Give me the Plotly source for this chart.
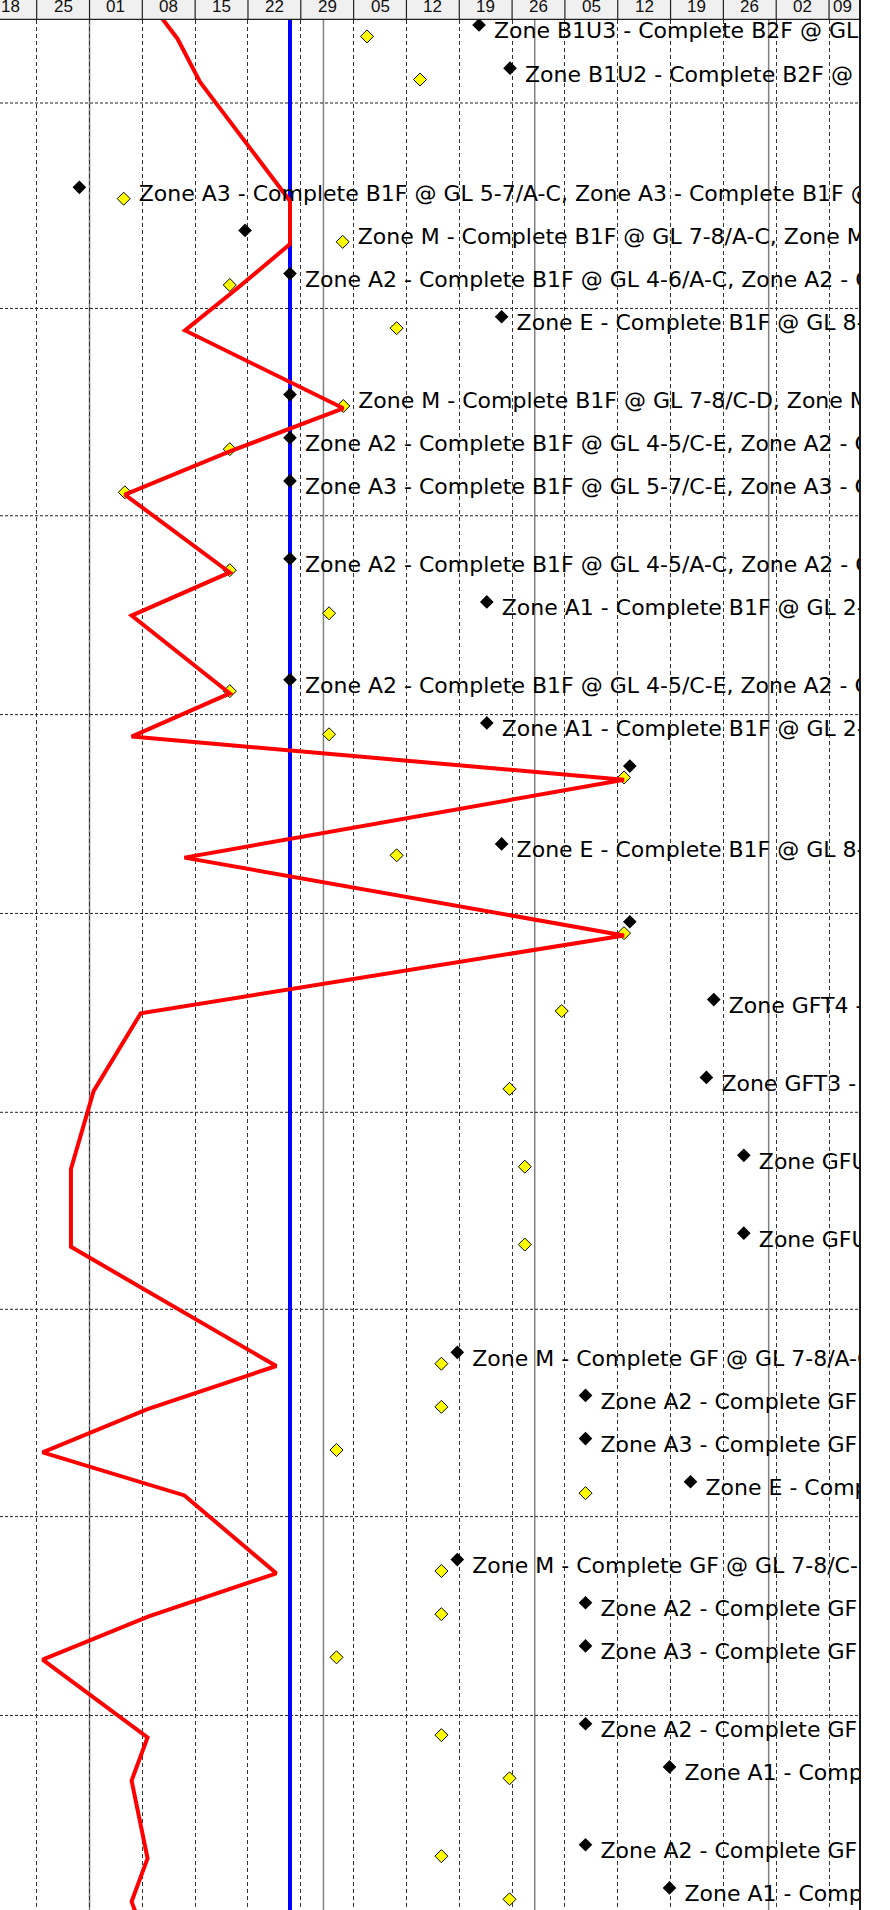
import pandas as pd
import plotly.graph_objects as go

# ---------------- data ----------------
X_START = '2017-12-20 03:20'
X_END = '2018-04-13 02:30'
DATA_DATE = '2018-01-27 13:40'
FIRST_WEEK = '2017-12-18'
MONTH_STARTS = ['2018-01-01', '2018-02-01', '2018-03-01', '2018-04-01']

# Gantt row structure: A = activity row, W1/W2 = WBS band rows (no bars)
ROW_KINDS = ['A', 'A', 'A', 'W1', 'W2', 'A', 'A', 'A', 'A', 'W2', 'A', 'A', 'A', 'W2',
             'A', 'A', 'W2', 'A', 'A', 'A', 'W2', 'A', 'W2', 'A', 'W2', 'A', 'W2', 'A',
             'W2', 'A', 'W2', 'A', 'W1', 'W2', 'A', 'A', 'A', 'A', 'W2', 'A', 'A', 'A',
             'W2', 'A', 'A', 'W2', 'A', 'A', 'A']

LABELS = [
    '',
    'Zone B1U3 - Complete B2F @ GL 1-3/A-E',
    'Zone B1U2 - Complete B2F @ GL 1-3/E-H',
    'Zone A3 - Complete B1F @ GL 5-7/A-C, Zone A3 - Complete B1F @ GL 5-7/A-C',
    'Zone M - Complete B1F @ GL 7-8/A-C, Zone M - Complete B1F @ GL 7-8/A-C',
    'Zone A2 - Complete B1F @ GL 4-6/A-C, Zone A2 - Complete B1F @ GL 4-6/A-C',
    'Zone E - Complete B1F @ GL 8-9/A-E',
    'Zone M - Complete B1F @ GL 7-8/C-D, Zone M - Complete B1F @ GL 7-8/C-D',
    'Zone A2 - Complete B1F @ GL 4-5/C-E, Zone A2 - Complete B1F @ GL 4-5/C-E',
    'Zone A3 - Complete B1F @ GL 5-7/C-E, Zone A3 - Complete B1F @ GL 5-7/C-E',
    'Zone A2 - Complete B1F @ GL 4-5/A-C, Zone A2 - Complete B1F @ GL 4-5/A-C',
    'Zone A1 - Complete B1F @ GL 2-4/A-E',
    'Zone A2 - Complete B1F @ GL 4-5/C-E, Zone A2 - Complete B1F @ GL 4-5/C-E',
    'Zone A1 - Complete B1F @ GL 2-4/A-E',
    '',
    'Zone E - Complete B1F @ GL 8-9/A-E',
    '',
    'Zone GFT4 - Complete GF',
    'Zone GFT3 - Complete GF',
    'Zone GFU1 - Complete GF',
    'Zone GFU2 - Complete GF',
    'Zone M - Complete GF @ GL 7-8/A-C',
    'Zone A2 - Complete GF @ GL 4-6/A-C',
    'Zone A3 - Complete GF @ GL 5-7/A-C',
    'Zone E - Complete GF @ GL 8-9/A-E',
    'Zone M - Complete GF @ GL 7-8/C-D',
    'Zone A2 - Complete GF @ GL 4-5/C-E',
    'Zone A3 - Complete GF @ GL 5-7/C-E',
    'Zone A2 - Complete GF @ GL 4-5/A-C',
    'Zone A1 - Complete GF @ GL 2-4/A-E',
    'Zone A2 - Complete GF @ GL 4-5/C-E',
    'Zone A1 - Complete GF @ GL 2-4/A-E',
    '',
]

# current (forecast) milestone dates - black diamonds
FINISH = [None, '2018-02-21 14:50', '2018-02-25 17:30', '2017-12-30 15:50', '2018-01-21 14:40',
          '2018-01-27 13:40', '2018-02-24 14:40', '2018-01-27 13:40', '2018-01-27 13:40',
          '2018-01-27 13:40', '2018-01-27 13:40', '2018-02-22 15:35', '2018-01-27 13:40',
          '2018-02-22 15:35', '2018-03-13 14:25', '2018-02-24 14:40', '2018-03-13 14:25',
          '2018-03-24 17:30', '2018-03-23 18:00', '2018-03-28 17:00', '2018-03-28 17:00',
          '2018-02-18 17:45', '2018-03-07 17:30', '2018-03-07 17:30', '2018-03-21 15:25',
          '2018-02-18 17:45', '2018-03-07 17:30', '2018-03-07 17:30', '2018-03-07 17:30',
          '2018-03-18 20:40', '2018-03-07 17:30', '2018-03-18 20:40', None]

# baseline milestone dates - yellow diamonds
BASELINE = [None, '2018-02-06 18:30', '2018-02-13 19:10', '2018-01-05 12:45', '2018-02-03 13:15',
            '2018-01-19 14:10', '2018-02-10 16:50', '2018-02-03 15:10', '2018-01-19 14:10',
            '2018-01-05 16:20', '2018-01-19 14:10', '2018-02-01 17:45', '2018-01-19 14:10',
            '2018-02-01 17:45', '2018-03-12 20:00', '2018-02-10 16:50', '2018-03-12 20:00',
            '2018-03-04 13:55', '2018-02-25 15:50', '2018-02-27 16:30', '2018-02-27 16:30',
            '2018-02-16 15:10', '2018-02-16 15:10', '2018-02-02 17:35', '2018-03-07 17:30',
            '2018-02-16 15:10', '2018-02-16 15:10', '2018-02-02 17:35', '2018-02-16 15:10',
            '2018-02-25 15:50', '2018-02-16 15:10', '2018-02-25 15:50', None]

# progress line points - red line
PROGRESS = ['2018-01-08 07:30', '2018-01-12 15:50', '2018-01-15 15:25', '2018-01-27 13:40',
            '2018-01-27 13:40', '2018-01-20 18:00', '2018-01-13 15:50', '2018-02-03 15:10',
            '2018-01-19 14:10', '2018-01-05 16:20', '2018-01-19 14:10', '2018-01-06 13:55',
            '2018-01-19 14:10', '2018-01-06 13:55', '2018-03-12 20:00', '2018-01-13 13:55',
            '2018-03-12 20:00', '2018-01-07 18:55', '2018-01-01 13:00', '2017-12-29 13:00',
            '2017-12-29 13:00', '2018-01-25 18:00', '2018-01-08 16:35', '2017-12-25 18:45',
            '2018-01-13 13:55', '2018-01-25 18:00', '2018-01-08 20:20', '2017-12-25 18:45',
            '2018-01-08 16:35', '2018-01-06 13:55', '2018-01-08 16:35', '2018-01-06 13:55',
            '2018-01-08 16:35']

# ---------------- layout constants ----------------
FIG_W, FIG_H = 890, 1910
HEADER_H = 20
PLOT_R = 860
ROW_H = {'A': 43.15, 'W1': 41.3, 'W2': 34.7}
FIRST_TOP = -26.45
OFF_FINISH, OFF_BASE, OFF_PROG, OFF_TEXT = 8.3, 19.7, 22.0, 16.2
TEXT_PAD_PX = 15
FONT = 'DejaVu Sans'
HDR_FONT = 'Liberation Sans, Arial, sans-serif'

x0, x1 = pd.Timestamp(X_START), pd.Timestamp(X_END)
px_per_day = PLOT_R / ((x1 - x0) / pd.Timedelta(days=1))
plot_h = FIG_H - HEADER_H
hdr_top = 1 + HEADER_H / plot_h


def py(px_from_top):
    return 1 + (HEADER_H - px_from_top) / plot_h


# row tops (in image-pixel units used by the y axis)
tops, y = [], FIRST_TOP
for k in ROW_KINDS:
    tops.append(y)
    y += ROW_H[k]
act_tops = [t for t, k in zip(tops, ROW_KINDS) if k == 'A']

fig = go.Figure()

# baseline diamonds
bx = [b for b in BASELINE if b]
by = [t + OFF_BASE for t, b in zip(act_tops, BASELINE) if b]
fig.add_trace(go.Scatter(x=bx, y=by, mode='markers',
                         marker=dict(symbol='diamond', size=10, color='#FFFF00',
                                     line=dict(color='#000000', width=1))))
# progress line
fig.add_trace(go.Scatter(x=PROGRESS, y=[t + OFF_PROG for t in act_tops], mode='lines',
                         line=dict(color='#FF0000', width=4)))
# current diamonds
fx = [f for f in FINISH if f]
fy = [t + OFF_FINISH for t, f in zip(act_tops, FINISH) if f]
fig.add_trace(go.Scatter(x=fx, y=fy, mode='markers',
                         marker=dict(symbol='diamond', size=10.5, color='#000000')))
# labels
pad = pd.Timedelta(days=TEXT_PAD_PX / px_per_day)
tx, ty, tt = [], [], []
for t, f, b, lab in zip(act_tops, FINISH, BASELINE, LABELS):
    if lab and f:
        tx.append(max(pd.Timestamp(f), pd.Timestamp(b)) + pad)
        ty.append(t + OFF_TEXT)
        tt.append(lab)
fig.add_trace(go.Scatter(x=tx, y=ty, text=tt, mode='text', textposition='middle right',
                         textfont=dict(family=FONT, size=22, color='#000000')))

shapes = []
# month boundaries (solid)
for m in MONTH_STARTS:
    shapes.append(dict(type='line', xref='x', yref='paper', x0=m, x1=m, y0=0, y1=1,
                       line=dict(color='#808080', width=1.5), layer='between'))
# horizontal grid every 5 rows
for i, (t, k) in enumerate(zip(tops, ROW_KINDS)):
    if i % 5 == 2:
        yb = t + ROW_H[k]
        shapes.append(dict(type='line', xref='paper', yref='y', x0=0, x1=1, y0=yb, y1=yb,
                           line=dict(color='#222222', width=1, dash='3px,2px'), layer='between'))
# data date
shapes.append(dict(type='line', xref='x', yref='paper', x0=DATA_DATE, x1=DATA_DATE, y0=0, y1=1,
                   line=dict(color='#0000FF', width=4), layer='between'))
# header band
shapes.append(dict(type='rect', xref='paper', yref='paper', x0=0, x1=1, y0=1, y1=hdr_top,
                   fillcolor='#F0F0F0', line=dict(width=0), layer='above'))
weeks = pd.date_range(FIRST_WEEK, x1, freq='7D')
annotations = []
for w in weeks:
    if w >= x0:
        shapes.append(dict(type='line', xref='x', yref='paper', x0=w, x1=w, y0=1, y1=hdr_top,
                           line=dict(color='#222222', width=1.2), layer='above'))
    end = w + pd.Timedelta(days=7)
    if end > x1:
        ax, anchor = w + pd.Timedelta(days=0.3), 'left'
    else:
        ax, anchor = w + pd.Timedelta(days=3.5), 'center'
    annotations.append(dict(x=ax, y=py(6.5), xref='x', yref='paper',
                            text=w.strftime('%d'), showarrow=False, xanchor=anchor,
                            yanchor='middle', font=dict(family=HDR_FONT, size=17, color='#111111')))
shapes.append(dict(type='line', xref='paper', yref='paper', x0=0, x1=1, y0=py(19.4), y1=py(19.4),
                   line=dict(color='#222222', width=1.4), layer='above'))
shapes.append(dict(type='line', xref='paper', yref='paper', x0=1, x1=1, y0=0, y1=hdr_top,
                   line=dict(color='#1a1a1a', width=2), layer='above'))

fig.update_layout(
    width=FIG_W, height=FIG_H,
    margin=dict(l=0, r=FIG_W - PLOT_R, t=HEADER_H, b=0, pad=0),
    paper_bgcolor='white', plot_bgcolor='white',
    showlegend=False, hovermode=False,
    shapes=shapes, annotations=annotations,
    xaxis=dict(type='date', range=[x0, x1], tick0=FIRST_WEEK, dtick=7 * 86400000,
               showgrid=True, gridcolor='#333333', griddash='4px,3px', gridwidth=1,
               showticklabels=False, ticks='', zeroline=False, showline=False),
    yaxis=dict(range=[FIG_H, HEADER_H], showgrid=False, showticklabels=False,
               ticks='', zeroline=False, showline=False),
)

fig.write_html('out.html', config={'displayModeBar': False},
               post_script="document.body.style.margin='0';document.body.style.padding='0';")
